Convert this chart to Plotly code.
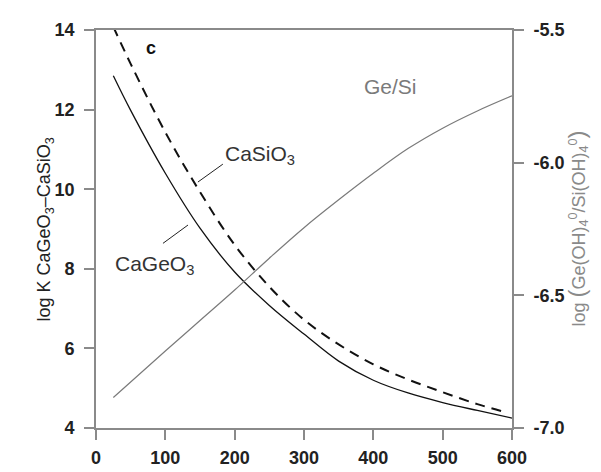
import plotly.graph_objects as go

# ---- data ----
temp_ge = [25, 50, 100, 150, 200, 250, 300, 350, 400, 450, 500, 550, 600]
logk_cageo3 = [12.85, 11.98, 10.4, 9.02, 7.92, 7.08, 6.36, 5.68, 5.2, 4.88, 4.64, 4.44, 4.25]

temp_si = [25, 50, 100, 150, 200, 250, 300, 350, 400, 450, 500, 550, 590]
logk_casio3 = [14.08, 13.15, 11.43, 9.93, 8.6, 7.55, 6.72, 6.1, 5.6, 5.22, 4.9, 4.6, 4.4]

temp_ratio = [25, 100, 150, 200, 250, 300, 350, 400, 450, 500, 550, 600]
log_gesi = [-6.885, -6.71, -6.595, -6.48, -6.36, -6.245, -6.14, -6.04, -5.947, -5.87, -5.805, -5.748]

x_ticks = [0, 100, 200, 300, 400, 500, 600]
y_ticks = [4, 6, 8, 10, 12, 14]
y2_ticks = [-7.0, -6.5, -6.0, -5.5]
y2_ticktext = ["-7.0", "-6.5", "-6.0", "-5.5"]

FONT = "Liberation Sans, Arial, sans-serif"
AXIS_GREY = "#8a8a8a"

fig = go.Figure()
fig.add_trace(go.Scatter(x=temp_ge, y=logk_cageo3, mode="lines",
                         line=dict(color="#111", width=1.3, shape="spline"), showlegend=False))
fig.add_trace(go.Scatter(x=temp_si, y=logk_casio3, mode="lines",
                         line=dict(color="#111", width=2, dash="10px,7px", shape="spline"), showlegend=False))
fig.add_trace(go.Scatter(x=temp_ratio, y=log_gesi, mode="lines", yaxis="y2",
                         line=dict(color="#7a7a7a", width=1.2, shape="spline"), showlegend=False))

tickfont = dict(family=FONT, size=18, color="#222", weight="bold")
fig.update_layout(
    width=601, height=472,
    margin=dict(l=88, r=97, t=19, b=37),
    paper_bgcolor="white", plot_bgcolor="white",
    xaxis=dict(range=[0, 600], tickvals=x_ticks, ticks="outside", ticklen=10, tickwidth=1.5,
               tickcolor=AXIS_GREY, showline=True, linecolor=AXIS_GREY, linewidth=1.8, mirror=True,
               showgrid=False, zeroline=False, tickfont=tickfont, ticklabelstandoff=2),
    yaxis=dict(range=[4, 14], tickvals=y_ticks, ticks="outside", ticklen=10, tickwidth=1.5,
               tickcolor=AXIS_GREY, showline=True, linecolor=AXIS_GREY, linewidth=1.8,
               showgrid=False, zeroline=False, tickfont=tickfont, ticklabelstandoff=6),
    yaxis2=dict(range=[-7.0, -5.5], tickvals=y2_ticks, ticktext=y2_ticktext, overlaying="y", side="right",
                ticks="outside", ticklen=10, tickwidth=1.5, tickcolor=AXIS_GREY, showline=True,
                linecolor=AXIS_GREY, linewidth=1.8, showgrid=False, zeroline=False, tickfont=tickfont,
                ticklabelstandoff=6),
)

label_font = dict(family=FONT, size=21, color="#333")
annotations = [
    dict(x=79, y=13.54, xref="x", yref="y", text="<b>c</b>", showarrow=False,
         font=dict(family=FONT, size=18, color="#111")),
    dict(x=183, y=10.85, xref="x", yref="y", text="CaSiO<sub>3</sub>", showarrow=False,
         xanchor="left", yanchor="middle", font=label_font),
    dict(x=24, y=8.1, xref="x", yref="y", text="CaGeO<sub>3</sub>", showarrow=False,
         xanchor="left", yanchor="middle", font=label_font),
    dict(x=425, y=-5.713, xref="x", yref="y2", text="Ge/Si", showarrow=False,
         font=dict(family=FONT, size=21, color="#7a7a7a")),
    dict(x=-0.154, y=0.5, xref="paper", yref="paper", textangle=-90, showarrow=False,
         text="log K CaGeO<sub>3</sub>–CaSiO<sub>3</sub>",
         font=dict(family=FONT, size=18, color="#222", weight=500)),
    dict(x=1.195, y=0.5, xref="paper", yref="paper", textangle=-90, showarrow=False,
         text="log <span style='font-size:24px'>(</span>Ge(OH)<sub>4</sub><sup>0</sup>/Si(OH)<sub>4</sub><sup>0</sup><span style='font-size:24px'>)</span>",
         font=dict(family=FONT, size=18, color="#8a8a8a")),
]
fig.update_layout(annotations=annotations)

# leader lines for labels
leaders = [((147, 10.18), (183, 10.63)), ((96.6, 8.64), (132.7, 9.1))]
for (x0, y0), (x1, y1) in leaders:
    fig.add_shape(type="line", x0=x0, y0=y0, x1=x1, y1=y1, xref="x", yref="y",
                  line=dict(color="#222", width=1))

fig.write_html("out.html")
